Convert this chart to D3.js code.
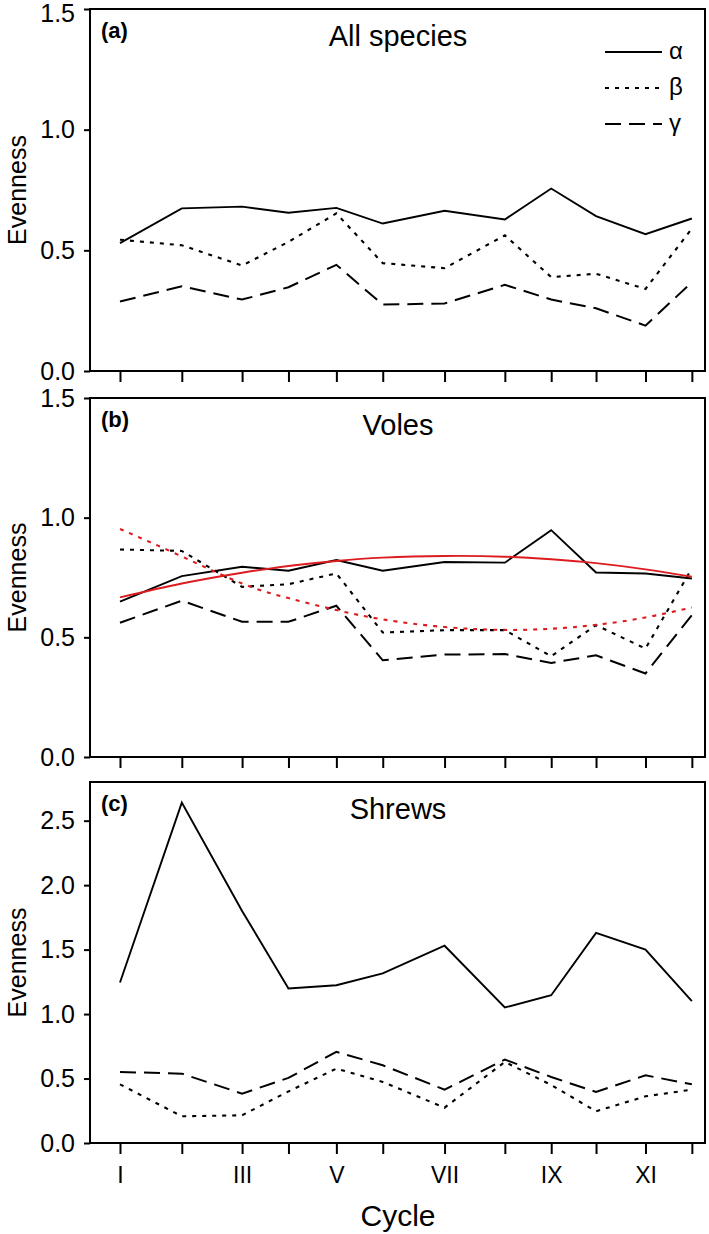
<!DOCTYPE html>
<html>
<head>
<meta charset="utf-8">
<script src="https://cdn.jsdelivr.net/npm/d3@7"></script>
<style>
  html, body { margin: 0; padding: 0; background: #fff; }
  svg { display: block; }
  text { font-family: "Liberation Sans", Arial, sans-serif; fill: #000; }
</style>
</head>
<body>
<svg id="chart" width="709" height="1234"></svg>
<script>
// ---- data ----
const cycles = ["I","II","III","IV","V","VI","VII","VIII","IX","X","XI","XII"];
const cycleTime = [0, 4, 7.9, 10.9, 14, 17, 21, 24.9, 27.9, 30.8, 34, 37];
const cycleTickLabels = ["I","","III","","V","","VII","","IX","","XI",""];

const seriesNames = ["α","β","γ"];

const allAlpha = [0.530,0.674,0.681,0.656,0.676,0.611,0.664,0.628,0.756,0.642,0.567,0.632];
const allBeta  = [0.544,0.521,0.437,0.535,0.653,0.447,0.426,0.562,0.389,0.403,0.340,0.590];
const allGamma = [0.288,0.351,0.296,0.347,0.440,0.275,0.280,0.357,0.296,0.260,0.188,0.368];

const voleAlpha = [0.649,0.756,0.795,0.778,0.823,0.778,0.815,0.812,0.948,0.771,0.767,0.746];
const voleBeta  = [0.867,0.861,0.711,0.722,0.767,0.520,0.530,0.530,0.421,0.551,0.453,0.788];
const voleGamma = [0.561,0.653,0.565,0.565,0.632,0.404,0.428,0.430,0.393,0.425,0.349,0.593];
const voleAlphaFit = [0.667,0.725,0.770,0.798,0.819,0.833,0.840,0.837,0.826,0.810,0.784,0.753];
const voleBetaFit  = [0.953,0.838,0.725,0.664,0.614,0.575,0.543,0.531,0.536,0.552,0.583,0.625];

const shrewAlpha = [1.245,2.640,1.800,1.198,1.224,1.315,1.530,1.051,1.146,1.630,1.500,1.100];
const shrewBeta  = [0.455,0.207,0.215,0.400,0.577,0.474,0.274,0.629,0.450,0.246,0.362,0.414];
const shrewGamma = [0.551,0.538,0.383,0.505,0.707,0.603,0.414,0.647,0.512,0.396,0.525,0.455];

const yTicksAB = [0, 0.5, 1.0, 1.5];
const yTicksC  = [0, 0.5, 1.0, 1.5, 2.0, 2.5];

// ---- layout ----
const FONT = '"Liberation Sans", Arial, sans-serif';
const svg = d3.select("#chart");
const left = 90, right = 705;
const x = d3.scaleLinear().domain([-1.94, 37.85]).range([left, right]);

const styles = {
  solid:  {dash: null,   width: 1.9},
  dotted: {dash: "4,6",  width: 2.1},
  dashed: {dash: "16,8", width: 2.0}
};

const panels = [
  {tag:"(a)", title:"All species", top:9,   bottom:371,  ymax:1.5, ticks:yTicksAB,
   series:[[allAlpha,"solid","#000"],[allBeta,"dotted","#000"],[allGamma,"dashed","#000"]], fits:[], legend:true, xlabels:false},
  {tag:"(b)", title:"Voles",       top:398, bottom:757,  ymax:1.5, ticks:yTicksAB,
   series:[[voleAlpha,"solid","#000"],[voleBeta,"dotted","#000"],[voleGamma,"dashed","#000"]],
   fits:[[voleAlphaFit,"solid","#dc1c1f"],[voleBetaFit,"dotted","#dc1c1f"]], legend:false, xlabels:false},
  {tag:"(c)", title:"Shrews",      top:782, bottom:1143, ymax:2.8, ticks:yTicksC,
   series:[[shrewAlpha,"solid","#000"],[shrewBeta,"dotted","#000"],[shrewGamma,"dashed","#000"]], fits:[], legend:false, xlabels:true}
];

panels.forEach((p, pi) => {
  const y = d3.scaleLinear().domain([0, p.ymax]).range([p.bottom, p.top]);
  const g = svg.append("g");

  const lineLin = d3.line().x((d,i) => x(cycleTime[i])).y(d => y(d));
  p.series.forEach(([vals, st, col]) => {
    g.append("path").attr("d", lineLin(vals))
      .attr("fill","none").attr("stroke", col)
      .attr("stroke-width", styles[st].width)
      .attr("stroke-dasharray", styles[st].dash);
  });
  const lineCurve = d3.line().x((d,i) => x(cycleTime[i])).y(d => y(d)).curve(d3.curveNatural);
  p.fits.forEach(([vals, st, col]) => {
    g.append("path").attr("d", lineCurve(vals))
      .attr("fill","none").attr("stroke", col)
      .attr("stroke-width", styles[st].width)
      .attr("stroke-dasharray", styles[st].dash);
  });

  g.append("rect").attr("x", left).attr("y", p.top)
    .attr("width", right - left).attr("height", p.bottom - p.top)
    .attr("fill","none").attr("stroke","#000").attr("stroke-width",2);

  const ya = d3.axisLeft(y).tickValues(p.ticks).tickFormat(d3.format(".1f")).tickSize(6).tickPadding(9);
  const yg = g.append("g").attr("transform", `translate(${left},0)`).call(ya);
  yg.select(".domain").remove();
  yg.selectAll(".tick line").attr("stroke","#000").attr("stroke-width",2);
  yg.selectAll(".tick text").style("font-size","25px").style("font-family", FONT).attr("fill","#000");
  if (pi === 0) {
    // keep the topmost label inside the page
    yg.selectAll(".tick text").filter(d => d === p.ymax).attr("dy", "0.48em");
  }

  const xa = d3.axisBottom(x).tickValues(cycleTime)
    .tickFormat((d,i) => p.xlabels ? cycleTickLabels[i] : "")
    .tickSize(11).tickPadding(13);
  const xg = g.append("g").attr("transform", `translate(0,${p.bottom})`).call(xa);
  xg.select(".domain").remove();
  xg.selectAll(".tick line").attr("stroke","#000").attr("stroke-width",2);
  xg.selectAll(".tick text").style("font-size","23px").style("font-family", FONT).attr("fill","#000");

  g.append("text")
    .attr("transform", `translate(26,${(p.top + p.bottom)/2}) rotate(-90)`)
    .attr("text-anchor","middle").style("font-size","25px").text("Evenness");

  g.append("text").attr("x", 101).attr("y", p.top + 29)
    .style("font-size","22px").style("font-weight","bold").text(p.tag);
  g.append("text").attr("x", 398).attr("y", p.top + 37)
    .attr("text-anchor","middle").style("font-size","29px").text(p.title);

  if (p.legend) {
    const rows = [["solid",52],["dotted",88],["dashed",124]];
    rows.forEach(([st, ly], i) => {
      g.append("line").attr("x1", 605).attr("x2", 662).attr("y1", ly).attr("y2", ly)
        .attr("stroke","#000").attr("stroke-width", styles[st].width)
        .attr("stroke-dasharray", styles[st].dash);
      g.append("text").attr("x", 669).attr("y", ly + 7)
        .style("font-size","24px").text(seriesNames[i]);
    });
  }
});

svg.append("text").attr("x", 398).attr("y", 1226).attr("text-anchor","middle")
  .style("font-size","30px").text("Cycle");
</script>
</body>
</html>
